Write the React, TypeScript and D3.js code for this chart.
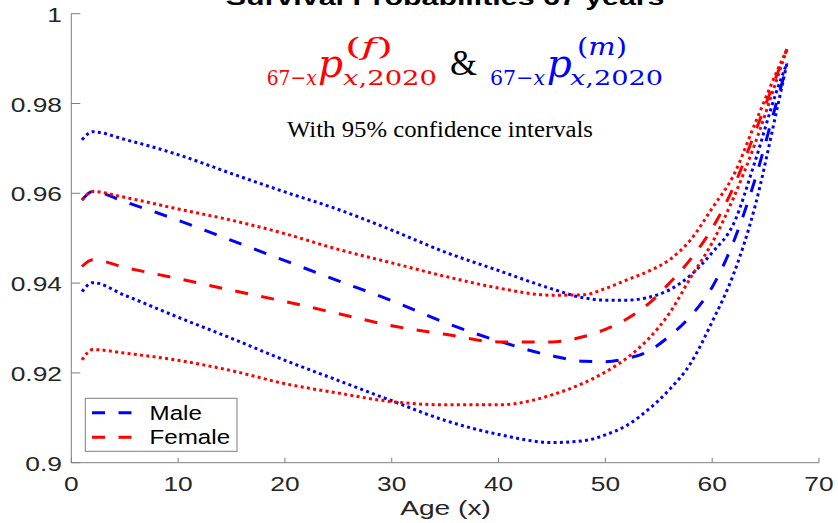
import React from 'react';
import * as d3 from 'd3';

// Ages (x) at which values were read
const ages = [1, 2, 5, 10, 15, 20, 25, 30, 35, 40, 45, 48, 50, 52, 54, 56, 58, 60, 62, 64, 66, 67];

// Male survival probabilities (mean and 95% CI)
const maleUpper = [0.9719, 0.9737, 0.9720, 0.9686, 0.9644, 0.9603, 0.9564, 0.9518, 0.9469, 0.9428, 0.9387, 0.9367, 0.9362, 0.9362, 0.9368, 0.9385, 0.9418, 0.9468, 0.9532, 0.9670, 0.9825, 0.9890];
const maleMean = [0.9585, 0.9604, 0.9581, 0.9540, 0.9495, 0.9450, 0.9405, 0.9361, 0.9312, 0.9271, 0.9238, 0.9226, 0.9225, 0.9232, 0.9248, 0.9282, 0.9327, 0.9391, 0.9492, 0.9630, 0.9800, 0.9885];
const maleLower = [0.9381, 0.9401, 0.9373, 0.9324, 0.9277, 0.9228, 0.9183, 0.9138, 0.9094, 0.9063, 0.9045, 0.9049, 0.9062, 0.9083, 0.9118, 0.9163, 0.9222, 0.9314, 0.9420, 0.9570, 0.9780, 0.9890];

// Female survival probabilities (mean and 95% CI)
const femaleUpper = [0.9585, 0.9604, 0.9591, 0.9565, 0.9540, 0.9510, 0.9475, 0.9445, 0.9415, 0.9389, 0.9373, 0.9374, 0.9388, 0.9407, 0.9426, 0.9452, 0.9497, 0.9567, 0.9640, 0.9755, 0.9868, 0.9921];
const femaleMean = [0.9437, 0.9452, 0.9435, 0.9410, 0.9384, 0.9359, 0.9332, 0.9305, 0.9286, 0.9269, 0.9269, 0.9281, 0.9297, 0.9320, 0.9353, 0.9400, 0.9454, 0.9522, 0.9614, 0.9735, 0.9860, 0.9921];
const femaleLower = [0.9229, 0.9252, 0.9244, 0.9228, 0.9205, 0.9176, 0.9155, 0.9136, 0.9129, 0.9129, 0.9151, 0.9178, 0.9202, 0.9233, 0.9275, 0.9333, 0.9413, 0.9490, 0.9590, 0.9710, 0.9850, 0.9921];

const xTicks = [0, 10, 20, 30, 40, 50, 60, 70];
const yTicks = [0.9, 0.92, 0.94, 0.96, 0.98, 1];
const yTickLabels = ['0.9', '0.92', '0.94', '0.96', '0.98', '1'];

const legendLabels = ['Male', 'Female'];
const titleText = 'Survival Probabilities 67 years';
const xLabel = 'Age (x)';
const subtitle = 'With 95% confidence intervals';

const W = 838;
const H = 523;
const X0 = 71.3;
const X1 = 819;
const YB = 462.7;
const YT = 13.7;

const BLUE = '#0000ff';
const RED = '#ff0000';
const AXIS = '#7f7f7f';
const TXT = '#262626';
const SANS = '"Liberation Sans", Arial, Helvetica, sans-serif';
const SERIF = '"Liberation Serif", "Times New Roman", serif';
const MATH = '"DejaVu Serif", serif';

const DOT = '3,3.3';
const DASH = '13,13.5';

function MathLabel({ color, x0, prefixW, pX, supX, supW, subX, subW, sup }: any) {
  return (
    <g fill={color} fontFamily={MATH}>
      <text x={x0} y={85} fontSize={21} textLength={prefixW} lengthAdjust="spacingAndGlyphs">
        67−<tspan fontStyle="italic">x</tspan>
      </text>
      <text x={pX} y={77} fontSize={40} fontStyle="italic" textLength={25} lengthAdjust="spacingAndGlyphs">
        p
      </text>
      <text x={supX} y={55} fontSize={24} textLength={supW} lengthAdjust="spacingAndGlyphs">
        (<tspan fontStyle="italic">{sup}</tspan>)
      </text>
      <text x={subX} y={85} fontSize={21} textLength={subW} lengthAdjust="spacingAndGlyphs">
        <tspan fontStyle="italic">x</tspan>,2020
      </text>
    </g>
  );
}

export default function App() {
  const x = d3.scaleLinear().domain([0, 70]).range([X0, X1]);
  const y = d3.scaleLinear().domain([0.9, 1]).range([YB, YT]);

  const line = (vals: number[]) =>
    d3
      .line<number>()
      .x((_, i) => x(ages[i]))
      .y((v) => y(v))
      .curve(d3.curveMonotoneX)(vals) || '';

  const series = [
    { vals: maleUpper, color: BLUE, dash: DOT },
    { vals: maleLower, color: BLUE, dash: DOT },
    { vals: maleMean, color: BLUE, dash: DASH },
    { vals: femaleUpper, color: RED, dash: DOT },
    { vals: femaleLower, color: RED, dash: DOT },
    { vals: femaleMean, color: RED, dash: DASH },
  ];

  const legendColors = [BLUE, RED];

  return (
    <svg
      width={W}
      height={H}
      style={{ position: 'absolute', left: 0, top: 0, background: '#fff' }}
    >
      <rect x={0} y={0} width={W} height={H} fill="#fff" />

      {/* Title (partially cut off at top, as in the reference) */}
      <text
        transform={`translate(${(X0 + X1) / 2},5) scale(1.38,1)`}
        textAnchor="middle"
        fontFamily={SANS}
        fontWeight="bold"
        fontSize={22}
        fill="#000"
      >
        {titleText}
      </text>

      {/* Axes */}
      <line x1={X0} y1={YB} x2={X1} y2={YB} stroke={AXIS} strokeWidth={1} />
      <line x1={X0} y1={YB} x2={X0} y2={YT} stroke={AXIS} strokeWidth={1} />
      {xTicks.map((t) => (
        <g key={'xt' + t}>
          <line x1={x(t)} x2={x(t)} y1={YB} y2={YB - 5} stroke={AXIS} strokeWidth={1} />
          <text
            transform={`translate(${x(t)},491) scale(1.35,1)`}
            textAnchor="middle"
            fontFamily={SANS}
            fontSize={19.5}
            fill={TXT}
          >
            {t}
          </text>
        </g>
      ))}
      {yTicks.map((t, i) => (
        <g key={'yt' + t}>
          <line x1={X0} x2={X0 + 9} y1={y(t)} y2={y(t)} stroke={AXIS} strokeWidth={1} />
          <text
            transform={`translate(62,${y(t) + 8}) scale(1.32,1)`}
            textAnchor="end"
            fontFamily={SANS}
            fontSize={20}
            fill={TXT}
          >
            {yTickLabels[i]}
          </text>
        </g>
      ))}

      {/* X label */}
      <text
        transform={`translate(445.5,515) scale(1.34,1)`}
        textAnchor="middle"
        fontFamily={SANS}
        fontSize={21}
        fill={TXT}
      >
        {xLabel}
      </text>

      {/* Data lines */}
      {series.map((s, i) => (
        <path
          key={i}
          d={line(s.vals)}
          fill="none"
          stroke={s.color}
          strokeWidth={3}
          strokeDasharray={s.dash}
          strokeLinecap="butt"
        />
      ))}

      {/* Math annotations */}
      <MathLabel color={RED} x0={266.7} prefixW={50} pX={318} supX={345} supW={48} subX={343} subW={94} sup="f" />
      <text
        x={450}
        y={75}
        fontFamily={SERIF}
        fontSize={36}
        fill="#000"
        textLength={27}
        lengthAdjust="spacingAndGlyphs"
      >
        &amp;
      </text>
      <MathLabel color={BLUE} x0={490} prefixW={55} pX={546.7} supX={577} supW={50} subX={570} subW={93} sup="m" />

      <text
        x={287}
        y={137}
        fontFamily={SERIF}
        fontSize={23}
        fill="#000"
        textLength={306}
        lengthAdjust="spacingAndGlyphs"
      >
        {subtitle}
      </text>

      {/* Legend */}
      <rect x={85.3} y={398.3} width={151.7} height={53} fill="#fff" stroke={AXIS} strokeWidth={1} />
      {legendLabels.map((lab, i) => (
        <g key={lab}>
          <line
            x1={92}
            x2={132}
            y1={412.7 + i * 24.6}
            y2={412.7 + i * 24.6}
            stroke={legendColors[i]}
            strokeWidth={3}
            strokeDasharray={DASH}
          />
          <text
            transform={`translate(149.5,${420 + i * 24}) scale(1.24,1)`}
            fontFamily={SANS}
            fontSize={19.5}
            fill="#000"
          >
            {lab}
          </text>
        </g>
      ))}
    </svg>
  );
}
